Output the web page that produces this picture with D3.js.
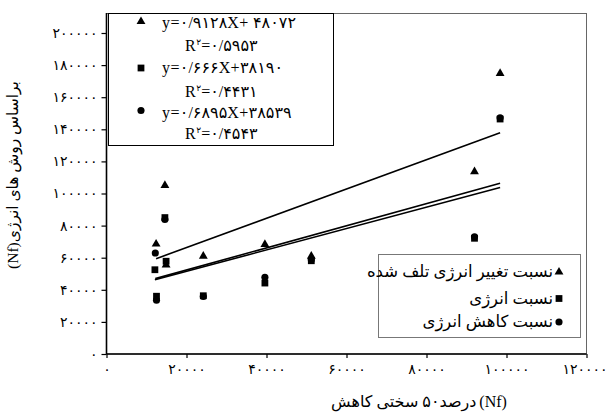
<!DOCTYPE html>
<html>
<head>
<meta charset="utf-8">
<script src="https://cdn.jsdelivr.net/npm/d3@7"></script>
<style>
  html, body { margin: 0; padding: 0; background: #fff; }
  svg { display: block; }
  text { font-family: "Liberation Serif", "DejaVu Sans", serif; fill: #000; }
</style>
</head>
<body>
<svg id="chart" width="608" height="416"></svg>
<script>
// Nf at 50% stiffness reduction (x) vs. Nf from energy methods (y)
const seriesNames = ["نسبت تغییر انرژی تلف شده", "نسبت انرژی", "نسبت کاهش انرژی"];
const seriesShapes = ["triangle", "square", "circle"];

const triX = [12400, 14600, 14900, 24200, 39600, 51200, 92000, 98400];
const triY = [68500, 105000, 55500, 61000, 68300, 61000, 113600, 174800];

const sqX = [12100, 12500, 14600, 14900, 24200, 39600, 51200, 92000, 98400];
const sqY = [52500, 36000, 85000, 57800, 36300, 44200, 58100, 72100, 146400];

const cirX = [12200, 12500, 14600, 24200, 39600, 51200, 92000, 98400];
const cirY = [62900, 33500, 83800, 35800, 47800, 58700, 73000, 147200];

// linear trend lines: y = slope * x + intercept
const slopes = [0.9128, 0.666, 0.6895];
const intercepts = [48072, 38190, 38539];
const eqLabels = ["y=۰/۹۱۲۸X+ ۴۸۰۷۲", "y=۰/۶۶۶X+۳۸۱۹۰", "y=۰/۶۸۹۵X+۳۸۵۳۹"];
const r2Labels = ["۰/۵۹۵۳", "۰/۴۴۳۱", "۰/۴۵۴۳"];

const xTicks = [0, 20000, 40000, 60000, 80000, 100000, 120000];
const xTickLabels = ["۰", "۲۰۰۰۰", "۴۰۰۰۰", "۶۰۰۰۰", "۸۰۰۰۰", "۱۰۰۰۰۰", "۱۲۰۰۰۰"];
const yTicks = [0, 20000, 40000, 60000, 80000, 100000, 120000, 140000, 160000, 180000, 200000];
const yTickLabels = ["۰", "۲۰۰۰۰", "۴۰۰۰۰", "۶۰۰۰۰", "۸۰۰۰۰", "۱۰۰۰۰۰", "۱۲۰۰۰۰", "۱۴۰۰۰۰", "۱۶۰۰۰۰", "۱۸۰۰۰۰", "۲۰۰۰۰۰"];

// x title pieces, left to right, with the gap that follows each piece
const xTitleParts = ["کاهش", "سختی", "۵۰", "درصد", "(Nf)"];
const xTitleGaps = [4, 4, 0, 3, 0];
const yTitle = "(Nf)براساس روش های انرژی";

const svg = d3.select("#chart");
const plotLeft = 106.5, plotRight = 586.5, plotTop = 13, plotBottom = 354;

const x = d3.scaleLinear().domain([0, 120000]).range([plotLeft, plotRight]);
const y = d3.scaleLinear().domain([0, 200000]).range([plotBottom, 33]);

// plot frame
svg.append("rect")
  .attr("x", plotLeft).attr("y", plotTop + 0.5)
  .attr("width", plotRight - plotLeft).attr("height", plotBottom - plotTop - 0.5)
  .attr("fill", "none").attr("stroke", "#666").attr("stroke-width", 1);

// axes
const yAxis = svg.append("g")
  .attr("transform", `translate(${plotLeft},0)`)
  .call(d3.axisLeft(y).tickValues(yTicks).tickFormat((d, i) => yTickLabels[i]).tickSize(5).tickPadding(4));
const xAxis = svg.append("g")
  .attr("transform", `translate(0,${plotBottom})`)
  .call(d3.axisBottom(x).tickValues(xTicks).tickFormat((d, i) => xTickLabels[i]).tickSize(4).tickPadding(6));

[xAxis, yAxis].forEach(g => {
  g.select(".domain").attr("stroke", "#000").attr("stroke-width", 1.6);
  g.selectAll(".tick line").attr("stroke", "#000").attr("stroke-width", 1.2);
  g.selectAll(".tick text").attr("font-size", 14).attr("letter-spacing", 1.3)
    .attr("font-family", "\"DejaVu Sans\", sans-serif").attr("fill", "#000");
});
yAxis.select(".domain").attr("d", `M0,${plotTop}V${plotBottom}`);
xAxis.select(".domain").attr("d", `M${plotLeft},0H${plotRight}`);
// keep the last x label inside the page
xAxis.selectAll(".tick text").filter(d => d === 120000)
  .attr("text-anchor", "end").attr("x", 607 - x(120000));

// trend lines over each series' x-range
const xsAll = [triX, sqX, cirX];
const ysAll = [triY, sqY, cirY];
const line = d3.line().x(d => x(d[0])).y(d => y(d[1]));
xsAll.forEach((xs, k) => {
  const ext = d3.extent(xs);
  const pts = ext.map(v => [v, slopes[k] * v + intercepts[k]]);
  svg.append("path").attr("d", line(pts))
    .attr("fill", "none").attr("stroke", "#000").attr("stroke-width", 1.6);
});

// markers
const symbolFor = {
  triangle: d3.symbol().type(d3.symbolTriangle).size(34),
  square: d3.symbol().type(d3.symbolSquare).size(46),
  circle: d3.symbol().type(d3.symbolCircle).size(40)
};
xsAll.forEach((xs, k) => {
  svg.append("g").selectAll("path")
    .data(xs.map((v, i) => [v, ysAll[k][i]]))
    .join("path")
    .attr("d", symbolFor[seriesShapes[k]]())
    .attr("transform", d => `translate(${x(d[0])},${y(d[1])})`)
    .attr("fill", "#000");
});

// equation legend
const eq = svg.append("g");
eq.append("rect").attr("x", 108.5).attr("y", 13.5).attr("width", 225).attr("height", 132)
  .attr("fill", "#fff").attr("stroke", "#000").attr("stroke-width", 1);
const eqRowY = [28, 73, 118];
const r2RowY = [51, 97, 139];
const eqMarkY = [21.5, 68, 110.5];
eqLabels.forEach((t, k) => {
  eq.append("path").attr("d", symbolFor[seriesShapes[k]]())
    .attr("transform", `translate(141,${eqMarkY[k]})`).attr("fill", "#000");
  eq.append("text").attr("x", 162).attr("y", eqRowY[k]).attr("font-size", 16)
    .attr("letter-spacing", 0.4).text(t);
  const r = eq.append("text").attr("x", 185).attr("y", r2RowY[k]).attr("font-size", 16)
    .attr("letter-spacing", 0.6);
  r.append("tspan").text("R");
  r.append("tspan").attr("font-size", 9).attr("dy", -6).text("۲");
  r.append("tspan").attr("dy", 6).text("=" + r2Labels[k]);
});

// series legend
const lg = svg.append("g");
lg.append("rect").attr("x", 378.5).attr("y", 254.5).attr("width", 202).attr("height", 83)
  .attr("fill", "#fff").attr("stroke", "#777").attr("stroke-width", 1);
const lgRowY = [272, 298.5, 322];
seriesNames.forEach((name, k) => {
  lg.append("path").attr("d", symbolFor[seriesShapes[k]]())
    .attr("transform", `translate(559,${lgRowY[k]})`).attr("fill", "#000");
  lg.append("text").attr("x", 553).attr("y", lgRowY[k] + 5)
    .attr("text-anchor", "end").attr("font-size", 16.5).text(name);
});

// x axis title, laid out piece by piece from left to right
const xt = svg.append("g");
const pieces = xTitleParts.map(p => xt.append("text").attr("y", 407).attr("font-size", 16).text(p));
const widths = pieces.map(p => p.node().getComputedTextLength());
const total = d3.sum(widths) + d3.sum(xTitleGaps);
let cx = 419 - total / 2;
pieces.forEach((p, i) => {
  p.attr("x", cx);
  cx += widths[i] + xTitleGaps[i];
});

// y axis title
svg.append("text").attr("transform", "translate(18,175) rotate(-90)")
  .attr("text-anchor", "middle").attr("font-size", 15.5).text(yTitle);
</script>
</body>
</html>
